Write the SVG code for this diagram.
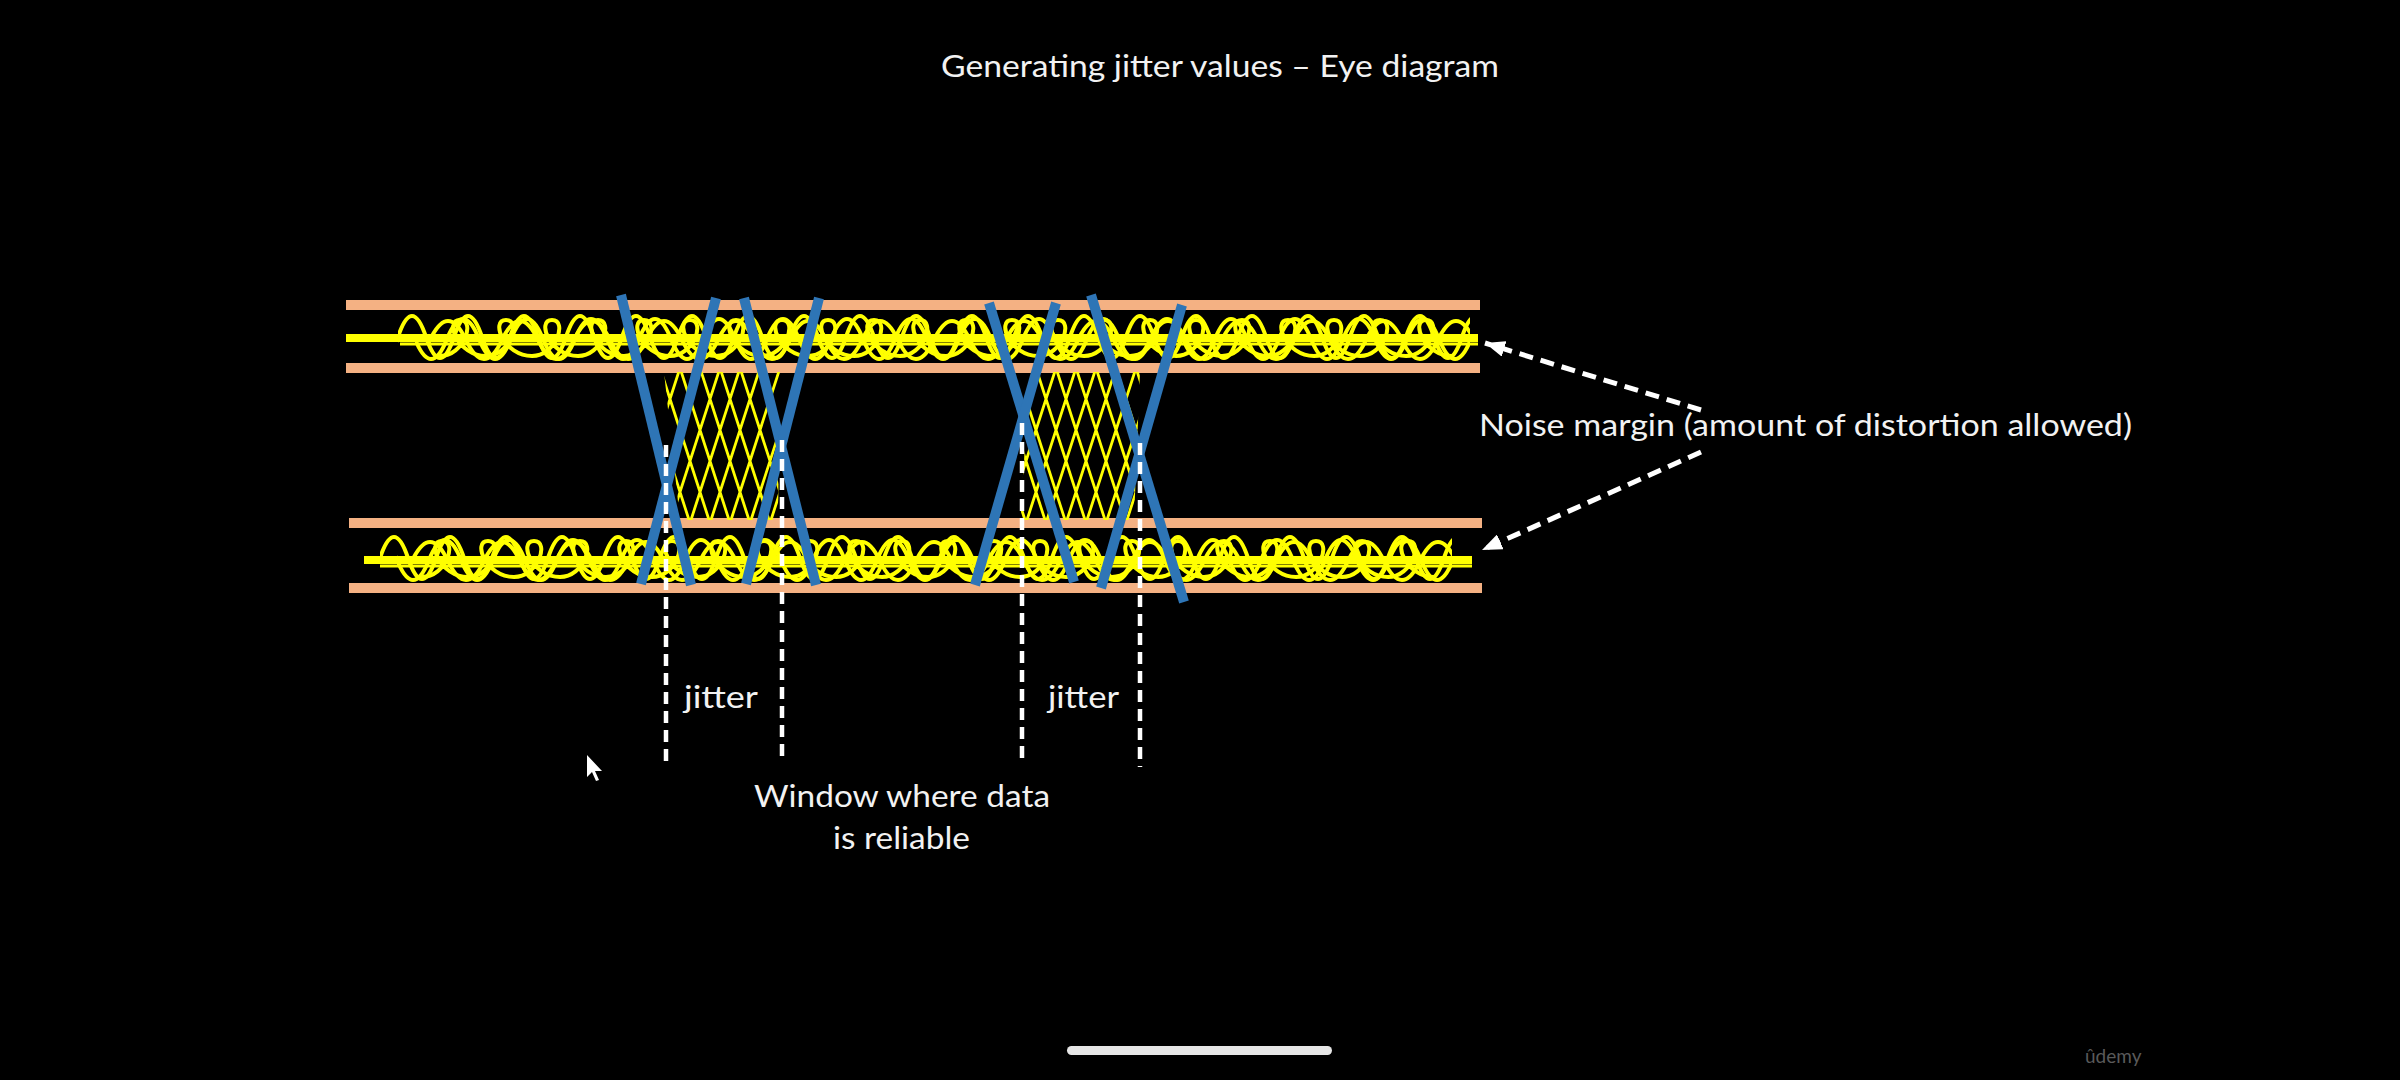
<svg xmlns="http://www.w3.org/2000/svg" xmlns:xlink="http://www.w3.org/1999/xlink" width="2400" height="1080" viewBox="0 0 2400 1080">
<style>
.band{stroke:#F4B183;stroke-width:10;fill:none}
.eye{stroke:#2E75B6;stroke-width:10;stroke-linecap:butt;fill:none}
.sq{fill:none;stroke:#FFFF00;stroke-width:4;stroke-linejoin:round}
.line{stroke:#FFFF00;fill:none}
.mesh{stroke:#FFFF00;stroke-width:2.8;fill:none}
.vdash{stroke:#FFFFFF;stroke-width:4.5;stroke-dasharray:12 7;fill:none}
.adash{stroke:#FFFFFF;stroke-width:5;stroke-dasharray:14 8;fill:none}
.lbl{font-family:Lato,"Open Sans","Liberation Sans",sans-serif;font-size:30px;fill:#F2F2F2}
</style>
<defs>
<marker id="ah" viewBox="0 0 20 16" refX="20" refY="8" markerWidth="20" markerHeight="16" markerUnits="userSpaceOnUse" orient="auto">
<path d="M0,0 L20,8 L0,16 z" fill="#FFFFFF"/>
</marker>
<pattern id="sineA" patternUnits="userSpaceOnUse" x="398" y="307" width="56" height="60">
<path class="sq" d="M-56,30 q14,-42 28,0 t28,0 t28,0 t28,0 t28,0 t28,0"/>
</pattern>
<pattern id="sineB" patternUnits="userSpaceOnUse" x="415" y="309" width="64" height="60">
<path class="sq" d="M-64,30 q16,40 32,0 t32,0 t32,0 t32,0 t32,0 t32,0"/>
</pattern>
<pattern id="sineC" patternUnits="userSpaceOnUse" x="430" y="310" width="72" height="60">
<path class="sq" d="M-72,30 q18,-38 36,0 t36,0 t36,0 t36,0 t36,0 t36,0"/>
</pattern>
<pattern id="loopUp" patternUnits="userSpaceOnUse" x="440" y="306" width="46" height="60">
<path class="sq" d="M-46,50 c24,0 36,-36 20,-36 c-16,0 -2,36 26,36 c24,0 36,-36 20,-36 c-16,0 -2,36 26,36 c24,0 36,-36 20,-36 c-16,0 -2,36 26,36"/>
</pattern>
<clipPath id="clipMesh1"><polygon points="664,372 780,372 778,520 680,520"/></clipPath>
<clipPath id="clipMesh2"><polygon points="1030,372 1140,372 1134,520 1020,520"/></clipPath>
<path id="meshLines" class="mesh" d="M620,368 l50,155 M640,368 l50,155 M660,368 l50,155 M680,368 l50,155 M700,368 l50,155 M720,368 l50,155 M740,368 l50,155 M760,368 l50,155 M780,368 l50,155 M680,368 l-50,155 M700,368 l-50,155 M720,368 l-50,155 M740,368 l-50,155 M760,368 l-50,155 M780,368 l-50,155 M800,368 l-50,155 M820,368 l-50,155 M840,368 l-50,155"/>
</defs>
<rect width="2400" height="1080" fill="#000000"/>

<g id="title">
<text class="lbl" x="1220" y="77" text-anchor="middle" textLength="558" lengthAdjust="spacingAndGlyphs">Generating jitter values – Eye diagram</text>
</g>

<g id="eye-diagram">
<g id="noise-bands">
<line class="band" x1="346" y1="305" x2="1480" y2="305"/>
<line class="band" x1="346" y1="368" x2="1480" y2="368"/>
<line class="band" x1="349" y1="523" x2="1482" y2="523"/>
<line class="band" x1="349" y1="588" x2="1482" y2="588"/>
</g>
<g id="signal-traces">
<g id="sq-top">
<rect x="398" y="307" width="1072" height="60" fill="url(#sineA)"/>
<rect x="415" y="309" width="1055" height="60" fill="url(#sineB)"/>
<rect x="430" y="310" width="1040" height="60" fill="url(#sineC)"/>
<rect x="440" y="306" width="1012" height="60" fill="url(#loopUp)"/>
</g>
<use xlink:href="#sq-top" href="#sq-top" transform="translate(-18,221)"/>
<line class="line" x1="346" y1="338" x2="1478" y2="338" stroke-width="8"/>
<line class="line" x1="400" y1="344" x2="1478" y2="344" stroke-width="3"/>
<line class="line" x1="364" y1="560" x2="1472" y2="560" stroke-width="8"/>
<line class="line" x1="380" y1="566" x2="1472" y2="566" stroke-width="3"/>
<g clip-path="url(#clipMesh1)"><use xlink:href="#meshLines" href="#meshLines"/></g>
<g clip-path="url(#clipMesh2)"><use xlink:href="#meshLines" href="#meshLines" transform="translate(356,0)"/></g>
</g>
<g id="transition-bounds">
<line class="eye" x1="621" y1="295" x2="691" y2="585"/>
<line class="eye" x1="716" y1="298" x2="641" y2="584"/>
<line class="eye" x1="744" y1="298" x2="816" y2="585"/>
<line class="eye" x1="819" y1="298" x2="746" y2="584"/>
<line class="eye" x1="989" y1="303" x2="1074" y2="582"/>
<line class="eye" x1="1056" y1="303" x2="975" y2="585"/>
<line class="eye" x1="1091" y1="295" x2="1184" y2="602"/>
<line class="eye" x1="1182" y1="305" x2="1101" y2="588"/>
</g>
</g>

<g id="connectors">
<line class="vdash" x1="666" y1="445" x2="666" y2="767"/>
<line class="vdash" x1="782" y1="440" x2="782" y2="762"/>
<line class="vdash" x1="1022" y1="423" x2="1022" y2="760"/>
<line class="vdash" x1="1140" y1="443" x2="1140" y2="767"/>
<line class="adash" x1="1701" y1="410" x2="1485" y2="343" marker-end="url(#ah)"/>
<line class="adash" x1="1701" y1="452" x2="1482" y2="550" marker-end="url(#ah)"/>
</g>

<g id="noise-label">
<text class="lbl" x="1479" y="436" textLength="653" lengthAdjust="spacingAndGlyphs">Noise margin (amount of distortion allowed)</text>
</g>
<g id="jitter-label-1">
<text class="lbl" x="684" y="708" textLength="74" lengthAdjust="spacingAndGlyphs">jitter</text>
</g>
<g id="jitter-label-2">
<text class="lbl" x="1048" y="708" textLength="71" lengthAdjust="spacingAndGlyphs">jitter</text>
</g>
<g id="window-label">
<text class="lbl" x="754" y="807" textLength="296" lengthAdjust="spacingAndGlyphs">Window where data</text>
<text class="lbl" x="833" y="849" textLength="137" lengthAdjust="spacingAndGlyphs">is reliable</text>
</g>

<g id="cursor">
<polygon points="587,755 587,777 592,772 596,781 599,780 595,771 602,771" fill="#FFFFFF"/>
</g>
<g id="home-indicator">
<rect x="1067" y="1046" width="265" height="9" rx="4.5" fill="#E6E6E6"/>
</g>
<g id="watermark">
<text x="2085" y="1063" font-family="Lato,'Open Sans','Liberation Sans',sans-serif" font-size="19" fill="#5A5A5A">ûdemy</text>
</g>
</svg>
